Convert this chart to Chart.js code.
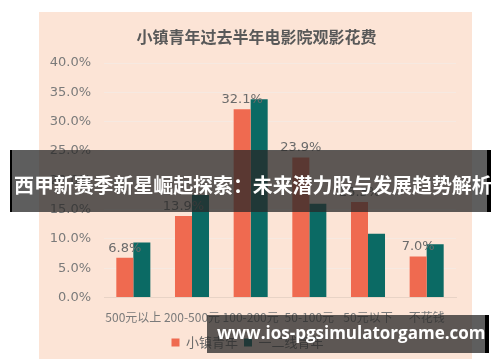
<!DOCTYPE html>
<html>
<head>
<meta charset="utf-8">
<script src="https://cdn.jsdelivr.net/npm/chart.js@4"></script>
<style>
  body { margin:0; width:500px; height:362px; background:#fff; position:relative; overflow:hidden;
         font-family:"DejaVu Sans","Noto Sans CJK SC",sans-serif; }
  #panel { position:absolute; left:39px; top:12px; width:433px; height:347px; background:#FCE4D6; }
  .banner { position:absolute; background:rgba(40,40,40,.75); color:#fff; font-weight:bold;
            font-family:"Noto Sans CJK SC",sans-serif; white-space:nowrap; box-sizing:border-box; }
  #b1 { left:10px; top:150px; width:481px; height:62px; font-size:20px; padding:20px 0 0 2px;
        border-left:2px solid #000; border-right:4px solid #000; letter-spacing:-0.1px; }
  #b2 { left:207px; top:315px; width:282px; height:38px; font-size:17px; padding:6px 0 0 10px;
        border-right:4px solid #000; font-family:"Open Sans","DejaVu Sans",sans-serif; }
</style>
</head>
<body>
<div id="panel"><canvas id="c" width="433" height="347"></canvas></div>
<div class="banner" id="b1">西甲新赛季新星崛起探索：未来潜力股与发展趋势解析</div>
<div class="banner" id="b2">www.ios-pgsimulatorgame.com</div>
<script>
const chartTitle = '小镇青年过去半年电影院观影花费';
const categories = ['500元以上', '200-500元', '100-200元', '50-100元', '50元以下', '不花钱'];
const townYouth = [6.8, 13.9, 32.1, 23.9, 16.3, 7.0];
const cityYouth = [9.4, 17.5, 33.8, 16.0, 10.9, 9.1];
const seriesNames = ['小镇青年', '一二线青年'];
const yTicks = [0, 5, 10, 15, 20, 25, 30, 35, 40];

const FONT = '"DejaVu Sans","Noto Sans CJK SC",sans-serif';
const CJK = '"Noto Sans CJK SC",sans-serif';

// value labels above the 小镇青年 bars + centred panel title
const extras = {
  id: 'extras',
  afterDatasetsDraw(chart) {
    const ctx = chart.ctx;
    const meta = chart.getDatasetMeta(0);
    ctx.save();
    ctx.font = '13px ' + FONT;
    ctx.fillStyle = '#6b6b6b';
    ctx.textAlign = 'center';
    ctx.textBaseline = 'bottom';
    meta.data.forEach((bar, i) => {
      ctx.fillText(townYouth[i].toFixed(1) + '%', bar.x, bar.y - 3);
    });
    ctx.font = 'bold 16px ' + CJK;
    ctx.fillStyle = '#595959';
    ctx.textBaseline = 'middle';
    ctx.fillText(chartTitle, chart.width / 2 + 1, 25);
    ctx.restore();
  }
};

new Chart(document.getElementById('c'), {
  type: 'bar',
  data: {
    labels: categories,
    datasets: [
      { label: seriesNames[0], data: townYouth, backgroundColor: '#EF6A50' },
      { label: seriesNames[1], data: cityYouth, backgroundColor: '#0B6A64' }
    ]
  },
  options: {
    responsive: false, animation: false,
    layout: { padding: { left: 0, right: 16, top: 51, bottom: 0 } },
    datasets: { bar: { categoryPercentage: 0.58, barPercentage: 1 } },
    plugins: {
      title: { display: false },
      legend: { position: 'bottom',
                labels: { boxWidth: 8, boxHeight: 8, color: '#6b6b6b', padding: 6,
                          font: { family: CJK, size: 13 } } },
      tooltip: { enabled: false }
    },
    scales: {
      x: {
        grid: { display: false },
        border: { color: '#e8d3c6' },
        ticks: { color: '#7a7a7a', maxRotation: 0, autoSkip: false, padding: 5,
                 font: { family: CJK, size: 12 } }
      },
      y: {
        min: 0, max: 40,
        afterFit: s => { s.width = 65; },
        afterBuildTicks: s => { s.ticks = yTicks.map(v => ({ value: v })); },
        grid: { color: '#f6e9e1', drawTicks: false },
        border: { display: false },
        ticks: { color: '#7a7a7a', padding: 13, font: { family: FONT, size: 13 },
                 callback: v => v.toFixed(1) + '%' }
      }
    }
  },
  plugins: [extras]
});
</script>
</body>
</html>
